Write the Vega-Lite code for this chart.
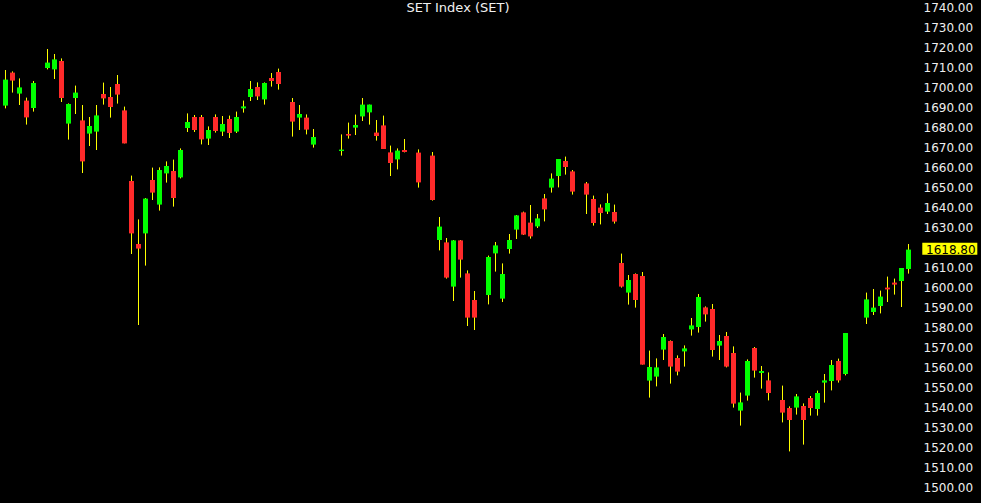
{
  "$schema": "https://vega.github.io/schema/vega-lite/v6.json",
  "width": 920,
  "height": 503,
  "autosize": {"type": "none"},
  "padding": {"left": 0, "top": 0, "right": 61, "bottom": 0},
  "background": "#000000",
  "config": {
    "view": {"stroke": null},
    "axis": {"labelOverlap": false, "labelBound": false, "labelFlush": false, "domain": false, "ticks": false, "grid": false}
  },
  "title": {"text": "SET Index (SET)", "color": "#f0f0f0", "font": "DejaVu Sans", "fontSize": 13, "fontWeight": "normal", "anchor": "middle", "baseline": "top", "offset": 0, "dy": 15, "dx": -2},
  "datasets": {
    "ohlc": [
      {"i":0,"o":1690.8,"h":1708.6,"l":1689.4,"c":1703.8},
      {"i":1,"o":1707.3,"h":1707.9,"l":1697.3,"c":1703.3},
      {"i":2,"o":1696.8,"h":1704.4,"l":1691.1,"c":1699.9},
      {"i":3,"o":1693.3,"h":1694.8,"l":1681.3,"c":1684.9},
      {"i":4,"o":1689.6,"h":1703.1,"l":1687.8,"c":1702.1},
      {"i":6,"o":1709.6,"h":1719.1,"l":1708.9,"c":1712.3},
      {"i":7,"o":1708.9,"h":1716.6,"l":1704.1,"c":1713.9},
      {"i":8,"o":1713.1,"h":1714.4,"l":1692.6,"c":1694.6},
      {"i":9,"o":1681.8,"h":1691.9,"l":1673.8,"c":1691.6},
      {"i":10,"o":1694.6,"h":1700.8,"l":1686.6,"c":1697.3},
      {"i":11,"o":1683.4,"h":1691.1,"l":1657.1,"c":1662.9},
      {"i":12,"o":1676.8,"h":1685.1,"l":1670.6,"c":1680.6},
      {"i":13,"o":1677.8,"h":1691.1,"l":1668.6,"c":1685.9},
      {"i":14,"o":1696.6,"h":1702.3,"l":1691.3,"c":1694.4},
      {"i":15,"o":1695.1,"h":1700.1,"l":1684.8,"c":1690.1},
      {"i":16,"o":1701.6,"h":1706.1,"l":1691.8,"c":1696.3},
      {"i":17,"o":1688.4,"h":1690.3,"l":1671.9,"c":1671.9},
      {"i":18,"o":1653.1,"h":1655.8,"l":1616.6,"c":1626.9},
      {"i":19,"o":1621.6,"h":1633.9,"l":1581.1,"c":1619.3},
      {"i":20,"o":1626.9,"h":1644.6,"l":1610.8,"c":1644.3},
      {"i":21,"o":1653.6,"h":1659.8,"l":1643.6,"c":1647.3},
      {"i":22,"o":1641.3,"h":1659.9,"l":1638.3,"c":1658.6},
      {"i":23,"o":1656.9,"h":1662.9,"l":1652.3,"c":1660.6},
      {"i":24,"o":1658.1,"h":1663.8,"l":1640.3,"c":1644.6},
      {"i":25,"o":1654.9,"h":1669.4,"l":1654.4,"c":1668.6},
      {"i":26,"o":1679.6,"h":1686.9,"l":1677.6,"c":1682.6},
      {"i":27,"o":1685.1,"h":1686.1,"l":1677.6,"c":1678.6},
      {"i":28,"o":1685.1,"h":1686.1,"l":1671.4,"c":1673.9},
      {"i":29,"o":1674.3,"h":1680.4,"l":1671.1,"c":1678.6},
      {"i":30,"o":1685.1,"h":1686.4,"l":1677.3,"c":1678.1},
      {"i":31,"o":1677.8,"h":1685.6,"l":1675.6,"c":1681.6},
      {"i":32,"o":1684.1,"h":1685.8,"l":1674.6,"c":1677.1},
      {"i":33,"o":1677.8,"h":1687.8,"l":1677.1,"c":1685.1},
      {"i":34,"o":1689.4,"h":1693.3,"l":1687.3,"c":1690.4},
      {"i":35,"o":1695.1,"h":1703.1,"l":1693.1,"c":1699.1},
      {"i":36,"o":1700.1,"h":1702.4,"l":1693.6,"c":1695.4},
      {"i":37,"o":1693.9,"h":1702.4,"l":1691.3,"c":1702.1},
      {"i":38,"o":1704.6,"h":1707.1,"l":1700.3,"c":1703.1},
      {"i":39,"o":1707.6,"h":1709.3,"l":1698.8,"c":1701.6},
      {"i":41,"o":1692.6,"h":1694.6,"l":1675.3,"c":1682.8},
      {"i":42,"o":1684.8,"h":1691.1,"l":1678.6,"c":1686.6},
      {"i":43,"o":1684.8,"h":1686.4,"l":1676.4,"c":1678.8},
      {"i":44,"o":1671.3,"h":1679.1,"l":1669.8,"c":1675.1},
      {"i":48,"o":1668.1,"h":1676.4,"l":1665.8,"c":1668.8},
      {"i":49,"o":1676.6,"h":1682.3,"l":1674.3,"c":1675.8},
      {"i":50,"o":1679.8,"h":1686.3,"l":1676.1,"c":1681.1},
      {"i":51,"o":1685.4,"h":1694.6,"l":1683.1,"c":1691.3},
      {"i":52,"o":1687.4,"h":1691.3,"l":1681.3,"c":1691.3},
      {"i":53,"o":1677.3,"h":1683.6,"l":1673.3,"c":1675.6},
      {"i":54,"o":1680.9,"h":1685.8,"l":1669.1,"c":1669.1},
      {"i":55,"o":1667.4,"h":1670.8,"l":1655.6,"c":1662.1},
      {"i":56,"o":1663.9,"h":1669.4,"l":1658.9,"c":1668.3},
      {"i":57,"o":1668.6,"h":1674.1,"l":1667.4,"c":1667.6},
      {"i":59,"o":1667.3,"h":1668.9,"l":1649.8,"c":1652.4},
      {"i":61,"o":1665.8,"h":1667.6,"l":1643.3,"c":1643.6},
      {"i":62,"o":1623.6,"h":1635.1,"l":1618.4,"c":1630.3},
      {"i":63,"o":1622.4,"h":1624.6,"l":1604.3,"c":1604.8},
      {"i":64,"o":1600.3,"h":1623.6,"l":1593.1,"c":1623.4},
      {"i":65,"o":1623.4,"h":1623.6,"l":1604.8,"c":1613.8},
      {"i":66,"o":1606.9,"h":1608.4,"l":1580.6,"c":1584.8},
      {"i":67,"o":1593.6,"h":1598.1,"l":1578.6,"c":1584.8},
      {"i":69,"o":1596.1,"h":1615.8,"l":1591.4,"c":1615.1},
      {"i":70,"o":1616.9,"h":1622.6,"l":1607.8,"c":1620.9},
      {"i":71,"o":1594.3,"h":1611.9,"l":1592.6,"c":1606.6},
      {"i":72,"o":1619.1,"h":1626.6,"l":1616.8,"c":1623.6},
      {"i":73,"o":1628.8,"h":1636.1,"l":1624.1,"c":1635.9},
      {"i":74,"o":1637.4,"h":1637.8,"l":1626.1,"c":1626.3},
      {"i":75,"o":1632.3,"h":1641.1,"l":1624.3,"c":1625.4},
      {"i":76,"o":1630.4,"h":1636.6,"l":1629.6,"c":1634.4},
      {"i":77,"o":1644.4,"h":1646.6,"l":1632.9,"c":1638.9},
      {"i":78,"o":1649.8,"h":1656.9,"l":1647.3,"c":1654.3},
      {"i":79,"o":1655.6,"h":1664.1,"l":1649.9,"c":1664.1},
      {"i":80,"o":1663.1,"h":1665.3,"l":1656.3,"c":1660.1},
      {"i":81,"o":1657.9,"h":1658.6,"l":1646.3,"c":1647.8},
      {"i":83,"o":1651.9,"h":1652.6,"l":1636.6,"c":1646.3},
      {"i":84,"o":1644.1,"h":1645.8,"l":1630.8,"c":1632.1},
      {"i":85,"o":1639.8,"h":1641.4,"l":1631.4,"c":1637.1},
      {"i":86,"o":1637.8,"h":1646.9,"l":1636.6,"c":1642.1},
      {"i":87,"o":1637.6,"h":1641.3,"l":1631.8,"c":1632.8},
      {"i":88,"o":1612.1,"h":1616.8,"l":1599.8,"c":1600.3},
      {"i":89,"o":1597.3,"h":1606.1,"l":1591.3,"c":1603.6},
      {"i":90,"o":1606.6,"h":1606.9,"l":1589.8,"c":1593.6},
      {"i":91,"o":1605.6,"h":1607.6,"l":1561.3,"c":1561.3},
      {"i":92,"o":1553.3,"h":1568.3,"l":1544.8,"c":1560.1},
      {"i":93,"o":1555.3,"h":1564.4,"l":1550.4,"c":1559.9},
      {"i":94,"o":1568.8,"h":1576.6,"l":1563.6,"c":1575.1},
      {"i":95,"o":1573.1,"h":1573.4,"l":1551.8,"c":1560.3},
      {"i":96,"o":1564.6,"h":1565.9,"l":1555.9,"c":1557.8},
      {"i":97,"o":1567.9,"h":1570.9,"l":1560.3,"c":1569.4},
      {"i":98,"o":1578.9,"h":1584.6,"l":1575.8,"c":1580.9},
      {"i":99,"o":1580.1,"h":1596.6,"l":1577.3,"c":1595.1},
      {"i":100,"o":1589.9,"h":1590.4,"l":1582.8,"c":1586.4},
      {"i":101,"o":1589.1,"h":1591.6,"l":1565.3,"c":1568.6},
      {"i":102,"o":1570.8,"h":1576.1,"l":1563.6,"c":1573.1},
      {"i":103,"o":1575.6,"h":1577.6,"l":1559.9,"c":1560.3},
      {"i":104,"o":1567.1,"h":1570.4,"l":1539.8,"c":1541.8},
      {"i":105,"o":1538.3,"h":1547.3,"l":1530.8,"c":1542.4},
      {"i":106,"o":1545.8,"h":1563.9,"l":1543.3,"c":1563.1},
      {"i":107,"o":1569.6,"h":1570.1,"l":1554.8,"c":1558.3},
      {"i":108,"o":1557.1,"h":1560.6,"l":1549.3,"c":1558.1},
      {"i":109,"o":1553.4,"h":1557.4,"l":1543.4,"c":1547.1},
      {"i":111,"o":1543.6,"h":1550.8,"l":1532.4,"c":1537.3},
      {"i":112,"o":1539.6,"h":1540.4,"l":1517.9,"c":1533.6},
      {"i":113,"o":1539.8,"h":1546.6,"l":1536.3,"c":1545.4},
      {"i":114,"o":1540.6,"h":1541.9,"l":1521.3,"c":1533.6},
      {"i":115,"o":1544.6,"h":1545.6,"l":1535.8,"c":1539.6},
      {"i":116,"o":1539.1,"h":1548.3,"l":1535.8,"c":1547.1},
      {"i":117,"o":1552.3,"h":1556.6,"l":1542.3,"c":1553.4},
      {"i":118,"o":1553.1,"h":1563.6,"l":1548.4,"c":1561.1},
      {"i":119,"o":1563.1,"h":1564.3,"l":1552.3,"c":1553.4},
      {"i":120,"o":1556.6,"h":1577.1,"l":1555.9,"c":1577.1},
      {"i":123,"o":1584.8,"h":1597.3,"l":1581.6,"c":1593.9},
      {"i":124,"o":1587.6,"h":1599.1,"l":1586.1,"c":1589.8},
      {"i":125,"o":1590.6,"h":1598.3,"l":1586.9,"c":1595.3},
      {"i":126,"o":1599.8,"h":1605.3,"l":1592.6,"c":1598.9},
      {"i":127,"o":1602.3,"h":1604.3,"l":1596.3,"c":1601.3},
      {"i":128,"o":1603.1,"h":1609.6,"l":1590.1,"c":1609.6},
      {"i":129,"o":1609.1,"h":1621.6,"l":1606.8,"c":1618.8}
    ],
    "last": [{"label": "1618.80", "price": 1618.8, "top": 1622.25, "bottom": 1616.25, "x0": 130.97, "x1": 138.83, "xt": 131.5}]
  },
  "layer": [
    {
      "data": {"name": "ohlc"},
      "mark": {"type": "rule", "color": "#ffff00", "strokeWidth": 1},
      "encoding": {
        "x": {"field": "i", "type": "quantitative", "scale": {"domain": [-0.785714, 130.642857], "nice": false, "zero": false, "padding": 0}, "axis": null},
        "y": {"field": "l", "type": "quantitative", "scale": {"domain": [1492.1, 1743.6], "nice": false, "zero": false, "padding": 0},
          "axis": {"orient": "right", "values": [1500,1510,1520,1530,1540,1550,1560,1570,1580,1590,1600,1610,1630,1640,1650,1660,1670,1680,1690,1700,1710,1720,1730,1740],
            "tickCount": 40,
            "format": ".2f", "title": null, "domain": false, "ticks": false, "grid": false, "labelPadding": 3,
            "labelColor": "#eeeeee", "labelFont": "DejaVu Sans", "labelFontSize": 12, "labelOverlap": false, "labelBound": false, "labelFlush": false}},
        "y2": {"field": "h"}
      }
    },
    {
      "data": {"name": "ohlc"},
      "mark": {"type": "bar", "width": 5},
      "encoding": {
        "x": {"field": "i", "type": "quantitative"},
        "y": {"field": "o", "type": "quantitative"},
        "y2": {"field": "c"},
        "color": {"condition": {"test": "datum.c >= datum.o", "value": "#00ff00"}, "value": "#ff2a2a"}
      }
    },
    {
      "data": {"name": "last"},
      "mark": {"type": "rect", "color": "#ffff00"},
      "encoding": {
        "x": {"field": "x0", "type": "quantitative"},
        "x2": {"field": "x1"},
        "y": {"field": "top", "type": "quantitative"},
        "y2": {"field": "bottom"}
      }
    },
    {
      "data": {"name": "last"},
      "mark": {"type": "text", "color": "#000000", "font": "DejaVu Sans", "fontSize": 12, "align": "left", "baseline": "middle"},
      "encoding": {
        "x": {"field": "xt", "type": "quantitative"},
        "y": {"field": "price", "type": "quantitative"},
        "text": {"field": "label"}
      }
    }
  ]
}
